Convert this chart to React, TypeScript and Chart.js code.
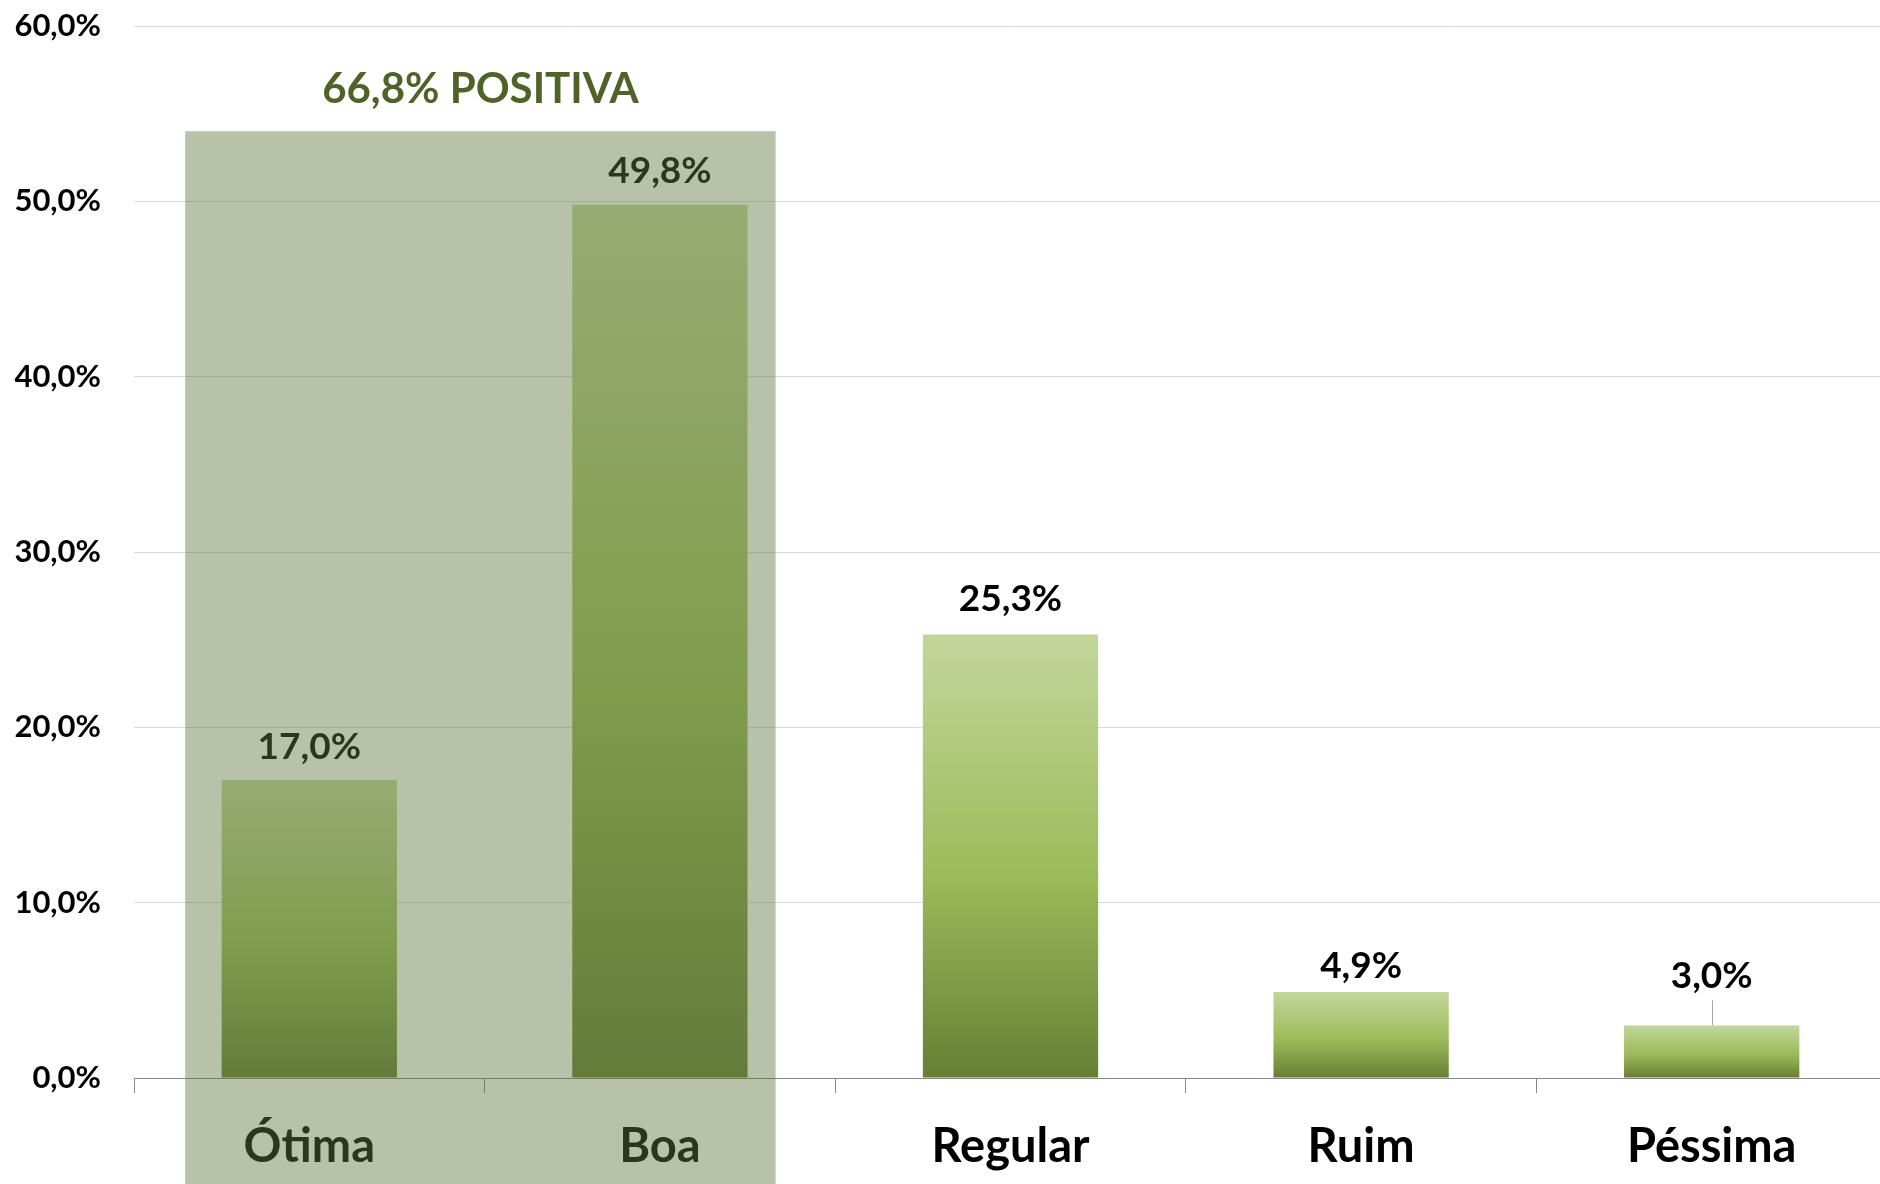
import React, { useEffect, useRef } from 'react';
import { Chart, registerables } from 'chart.js';

Chart.register(...registerables);

// ---- data ----
const categories = ['Ótima', 'Boa', 'Regular', 'Ruim', 'Péssima'];
const values = [17.0, 49.8, 25.3, 4.9, 3.0];
const yTickValues = [0, 10, 20, 30, 40, 50, 60];
const highlightTitle = '66,8% POSITIVA';
const highlightCount = 2; // first N categories are grouped as "positiva"
const highlightTopValue = 54;

// ---- style ----
const FAMILY = 'Lato, "Open Sans", sans-serif';
const labelGaps = [33, 34, 35, 26, 49];
const leaderLine = [false, false, false, false, true];

const fmt = (v: number) => v.toFixed(1).replace('.', ',') + '%';

const customPlugin = {
  id: 'custom',
  afterDatasetsDraw(chart: any) {
    const { ctx } = chart;
    const meta = chart.getDatasetMeta(0);
    ctx.save();
    ctx.font = `bold 37px ${FAMILY}`;
    ctx.textAlign = 'center';
    ctx.textBaseline = 'middle';
    meta.data.forEach((bar: any, i: number) => {
      const ly = bar.y - labelGaps[i];
      ctx.fillStyle = '#000';
      ctx.fillText(fmt(values[i]), bar.x, ly);
      if (leaderLine[i]) {
        ctx.strokeStyle = '#A6A6A6';
        ctx.lineWidth = 1;
        ctx.beginPath();
        ctx.moveTo(Math.round(bar.x) + 0.5, ly + 24);
        ctx.lineTo(Math.round(bar.x) + 0.5, bar.y);
        ctx.stroke();
      }
    });
    ctx.restore();
  },
  afterDraw(chart: any) {
    const { ctx } = chart;
    const xs = chart.scales.x;
    const ys = chart.scales.y;
    const cw = xs.getPixelForValue(1) - xs.getPixelForValue(0);
    const left = xs.getPixelForValue(0) - 0.354 * cw;
    const right = xs.getPixelForValue(highlightCount - 1) + 0.33 * cw;
    const top = ys.getPixelForValue(highlightTopValue);
    ctx.save();
    ctx.fillStyle = 'rgba(97,119,64,0.45)';
    ctx.fillRect(left, top, right - left, chart.height - top);
    ctx.font = `bold 42px ${FAMILY}`;
    ctx.textAlign = 'center';
    ctx.textBaseline = 'middle';
    ctx.fillStyle = '#4F6228';
    ctx.fillText(highlightTitle, (left + right) / 2, ys.getPixelForValue(56.4));
    ctx.restore();
  },
};

export default function App() {
  const ref = useRef<HTMLCanvasElement>(null);
  useEffect(() => {
    if (!ref.current) return;
    const chart = new Chart(ref.current, {
      type: 'bar',
      data: {
        labels: categories,
        datasets: [
          {
            data: values,
            backgroundColor: (c: any) => {
              const ch = c.chart;
              if (!ch.chartArea || c.type !== 'data') return '#9BBB59';
              const ys = ch.scales.y;
              const top = ys.getPixelForValue(values[c.dataIndex]);
              const base = ys.getPixelForValue(0);
              const g = ch.ctx.createLinearGradient(0, top, 0, base);
              g.addColorStop(0, '#C3D69B');
              g.addColorStop(0.55, '#9BBB59');
              g.addColorStop(1, '#657F34');
              return g;
            },
            borderWidth: 0,
            categoryPercentage: 1,
            barPercentage: 0.5,
          },
        ],
      },
      options: {
        responsive: false,
        animation: false,
        devicePixelRatio: 1,
        layout: { padding: { top: 26, left: 0, right: 0, bottom: 0 } },
        plugins: { legend: { display: false }, tooltip: { enabled: false } },
        scales: {
          x: {
            offset: true,
            grid: {
              offset: true,
              drawOnChartArea: false,
              drawTicks: true,
              tickLength: 15,
              color: '#868686',
              lineWidth: 1,
            },
            border: { display: true, color: '#868686', width: 1 },
            ticks: {
              color: '#000',
              font: { family: FAMILY, size: 47, weight: 'bold' },
              padding: 26,
              maxRotation: 0,
            },
            afterFit: (s: any) => {
              s.height = 106;
              s.paddingTop = 0;
              s.paddingBottom = 0;
              s.paddingLeft = 0;
              s.paddingRight = 0;
            },
          },
          y: {
            min: 0,
            max: 60,
            afterBuildTicks: (s: any) => {
              s.ticks = yTickValues.map((v) => ({ value: v }));
            },
            ticks: {
              color: '#000',
              font: { family: FAMILY, size: 31, weight: 'bold' },
              padding: 33,
              callback: (v: any) => fmt(Number(v)),
            },
            grid: { color: '#D9D9D9', lineWidth: 1, drawTicks: false },
            border: { display: false },
            afterFit: (s: any) => {
              s.width = 134;
              s.paddingTop = 0;
              s.paddingBottom = 0;
            },
          },
        },
      },
      plugins: [customPlugin],
    });
    return () => chart.destroy();
  }, []);
  return (
    <div
      style={{
        position: 'absolute',
        left: 0,
        top: 0,
        width: 1880,
        height: 1184,
        overflow: 'hidden',
        background: '#fff',
      }}
    >
      <canvas ref={ref} width={1887} height={1184} style={{ width: 1887, height: 1184, display: 'block' }} />
    </div>
  );
}
